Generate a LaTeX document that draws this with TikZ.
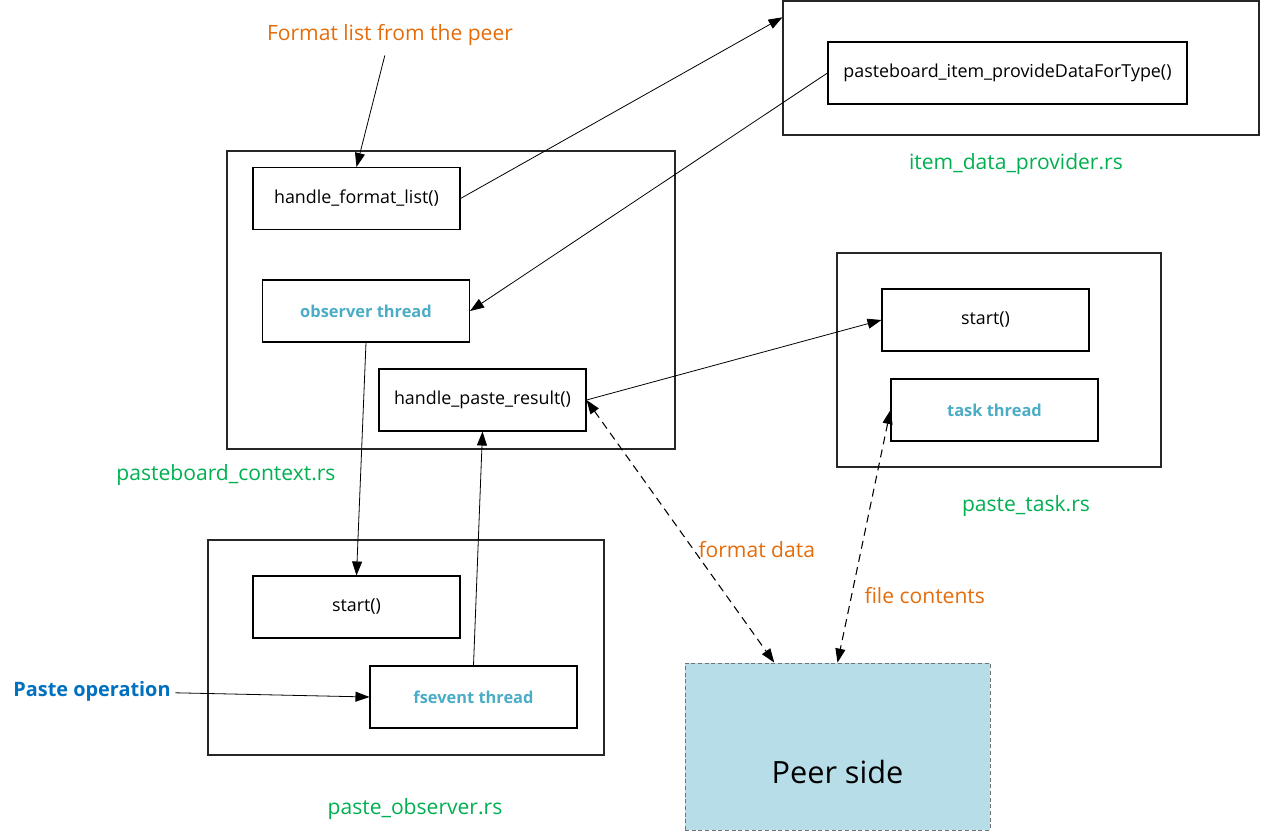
\documentclass[tikz,border=0pt]{standalone}
\usepackage{fontspec}
\setmainfont{Open Sans}
\usetikzlibrary{positioning,arrows.meta,calc}
\definecolor{noteorange}{HTML}{E46C0A}
\definecolor{filegreen}{HTML}{00B050}
\definecolor{threadblue}{HTML}{4BACC6}
\definecolor{opblue}{HTML}{0070C0}
\definecolor{peerfill}{HTML}{B7DDE8}

\begin{document}
\begin{tikzpicture}[
  x=0.75pt,y=-0.75pt,
  module/.style={draw=black!85,line width=0.8pt,inner sep=0pt},
  fn/.style={draw=black,line width=0.8pt,inner sep=0pt,minimum width=155.25pt,
             minimum height=46.5pt,font=\fontsize{13.4}{15}\selectfont},
  thread/.style={fn,text=threadblue,font=\fontsize{12.3}{14}\selectfont\bfseries},
  file/.style={text=filegreen,font=\fontsize{15.8}{18}\selectfont},
  note/.style={text=noteorange,font=\fontsize{15.8}{18}\selectfont},
  flow/.style={-{Triangle[length=10.5pt,width=7.5pt]},line width=0.6pt},
  sync/.style={{Triangle[length=10.5pt,width=7.5pt]}-{Triangle[length=10.5pt,width=7.5pt]},
               line width=0.8pt,dash pattern=on 6pt off 4pt}
]
\useasboundingbox (0,0) rectangle (1261,836);

% item_data_provider.rs
\node[module,minimum width=357pt,minimum height=100.5pt] (provmod) at (1021,68) {};
\node[fn,minimum width=269.25pt] (provide) at (1007.5,73) {pasteboard\_item\_provideDataForType()};
\node[file] (provfile) at (1016,164) {item\_data\_provider.rs};

% pasteboard_context.rs
\node[module,minimum width=336pt,minimum height=223.5pt] (ctxmod) at (451,300) {};
\node[fn] (fmtlist) at (356.5,198.5) {handle\_format\_list()};
\node[thread] (observer) at (366,311) {observer thread};
\node[fn] (result) at (482.5,400) {handle\_paste\_result()};
\node[file] (ctxfile) at (226,475) {pasteboard\_context.rs};

% paste_task.rs
\node[module,minimum width=243pt,minimum height=160.5pt] (taskmod) at (999,360) {};
\node[fn] (taskstart) at (985.5,320) {start()};
\node[thread] (task) at (994.5,410) {task thread};
\node[file] (taskfile) at (1026,506) {paste\_task.rs};

% paste_observer.rs
\node[module,minimum width=297pt,minimum height=161.25pt] (obsmod) at (406,647.5) {};
\node[fn] (obsstart) at (356.5,607) {start()};
\node[thread] (fsevent) at (473.5,697) {fsevent thread};
\node[file] (obsfile) at (415,809) {paste\_observer.rs};

% peer
\node[draw=black!55,fill=peerfill,densely dashed,line width=0.6pt,minimum width=228.75pt,
      minimum height=125.25pt] (peer) at (837.5,746.5) {};
\node[font=\fontsize{23}{27}\selectfont] (peertext) at (837.5,772) {Peer side};

\node[note] (fmtnote) at (390,35) {Format list from the peer};
\node[text=opblue,font=\fontsize{14.9}{17}\selectfont\bfseries] (pasteop) at (92,691) {Paste operation};

\draw[flow,shorten <=4pt] (fmtnote) -- (fmtlist.north);
\draw[flow] (fmtlist.east) -- (provmod.168);
\draw[flow] (provide.west) -- (observer.east);
\draw[flow] (observer.south) -- (obsstart.north);
\draw[flow] (fsevent.north) -- (result.south);
\draw[flow] (pasteop) -- (fsevent.west);
\draw[flow] (result.east) -- (taskstart.west);
\draw[sync] (result.east) -- node[note,pos=0.57,right=0pt] (fmtdata) {format data} (peer.127);
\draw[sync] (task.west) -- node[note,pos=0.735,right=6pt] (filecont) {file contents} (peer.north);
\end{tikzpicture}
\end{document}
